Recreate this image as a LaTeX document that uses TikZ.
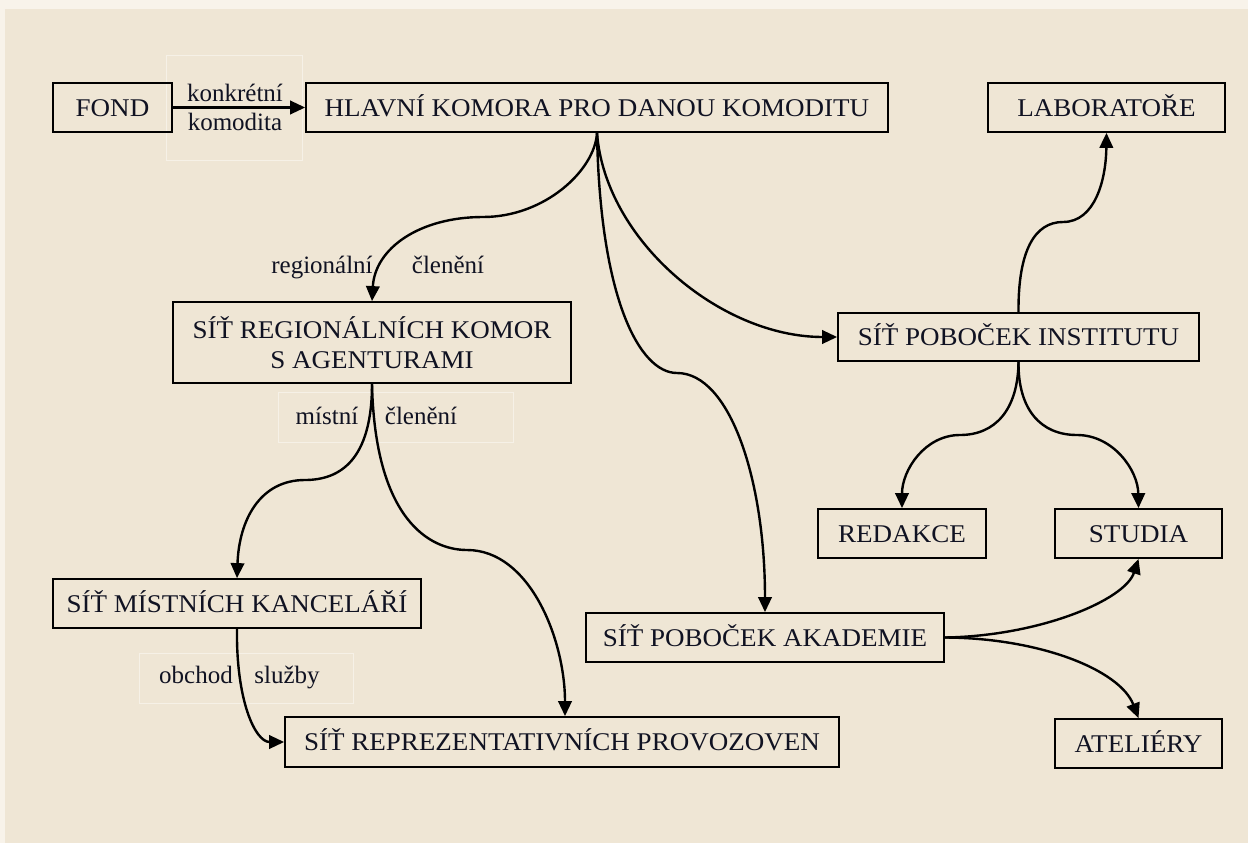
\documentclass[tikz,border=0pt]{standalone}
\usepackage{fontspec}
\setmainfont{Liberation Serif}
\newfontfamily\boxfont[FakeStretch=1.06]{Liberation Serif}
\usetikzlibrary{arrows.meta}
\definecolor{bg}{HTML}{EFE6D5}
\definecolor{bgl}{HTML}{F8F3EA}
\definecolor{ink}{HTML}{101222}
\begin{document}
\begin{tikzpicture}[x=1pt,y=-1pt,
  box/.style={draw=black, line width=1.8pt, inner sep=0pt, text=ink,
    font=\boxfont\fontsize{25.5}{30}\selectfont, text height=17pt, text depth=0pt},
  lbl/.style={text=ink, font=\fontsize{25}{30}\selectfont, anchor=base, inner sep=0pt},
  conn/.style={line width=2.4pt, -{Triangle[length=15pt,width=13.5pt]}},
  faint/.style={draw=white, line width=0.8pt, opacity=0.45}]
\useasboundingbox (0,0) rectangle (1248,843);
\fill[bgl] (0,0) rectangle (1248,843);
\fill[bg] (5,9) rectangle (1248,843);
% faint label frames
\draw[faint] (166,55) rectangle (302,160);
\draw[faint] (278,392) rectangle (513,442);
\draw[faint] (139,653) rectangle (353,703);
% boxes
\node[box, minimum width=119pt, minimum height=49pt] (fond) at (112.5,107.5) {FOND};
\node[box, minimum width=582pt, minimum height=49pt] (hlavni) at (597,107.5) {HLAVNÍ KOMORA PRO DANOU KOMODITU};
\node[box, minimum width=237pt, minimum height=49pt] (lab) at (1106.5,107.5) {LABORATOŘE};
\node[box, minimum width=398pt, minimum height=81pt, text height=, text depth=, align=center] (reg) at (372,342.5) {SÍŤ REGIONÁLNÍCH KOMOR\\S AGENTURAMI};
\node[box, minimum width=361pt, minimum height=48pt] (inst) at (1018.5,337) {SÍŤ POBOČEK INSTITUTU};
\node[box, minimum width=168pt, minimum height=49pt] (red) at (902,533.5) {REDAKCE};
\node[box, minimum width=167pt, minimum height=49pt] (stud) at (1138.5,533.5) {STUDIA};
\node[box, minimum width=368pt, minimum height=49pt] (mist) at (237,603.5) {SÍŤ MÍSTNÍCH KANCELÁŘÍ};
\node[box, minimum width=358pt, minimum height=49pt] (akad) at (765,637.5) {SÍŤ POBOČEK AKADEMIE};
\node[box, minimum width=554pt, minimum height=50pt] (repr) at (562,742) {SÍŤ REPREZENTATIVNÍCH PROVOZOVEN};
\node[box, minimum width=167pt, minimum height=49pt] (atel) at (1138.5,743.5) {ATELIÉRY};
% labels
\node[lbl] (l1) at (235,101) {konkrétní};
\node[lbl] (l2) at (235,130) {komodita};
\node[lbl] (l3) at (322,273) {regionální};
\node[lbl] (l4) at (448,273) {členění};
\node[lbl] (l5) at (327,424) {místní};
\node[lbl] (l6) at (421,424) {členění};
\node[lbl] (l7) at (196,683) {obchod};
\node[lbl] (l8) at (287,683) {služby};
% intermediate points
\coordinate (m2) at (483,217);
\coordinate (m3) at (677,373);
\coordinate (m5) at (305,480);
\coordinate (m6) at (467,550);
\coordinate (m8) at (1063,222);
\coordinate (m9) at (960,435);
\coordinate (m10) at (1077,435);
% connectors
\draw[conn] (fond.east) -- (hlavni.west);
\draw[conn] (hlavni.south) .. controls (595,170) and (545,217) .. (m2) .. controls (420,217) and (375,248) .. (reg.north);
\draw[conn] (hlavni.south) .. controls (600,300) and (640,373) .. (m3) .. controls (730,373) and (765,480) .. (akad.north);
\draw[conn] (hlavni.south) .. controls (605,240) and (720,337) .. (inst.west);
\draw[conn] (reg.south) .. controls (372,460) and (340,480) .. (m5) .. controls (260,480) and (239,520) .. (mist.north);
\draw[conn] (reg.south) .. controls (375,520) and (430,550) .. (m6) .. controls (530,550) and (565,640) .. ([xshift=3pt]repr.north);
\draw[conn] (mist.south) .. controls (236,700) and (255,742) .. (repr.west);
\draw[conn] (inst.north) .. controls (1018,250) and (1035,222) .. (m8) .. controls (1095,222) and (1106,180) .. (lab.south);
\draw[conn] (inst.south) .. controls (1018,410) and (995,435) .. (m9) .. controls (925,435) and (902,470) .. (red.north);
\draw[conn] (inst.south) .. controls (1018,410) and (1041,435) .. (m10) .. controls (1113,435) and (1138,470) .. (stud.north);
\draw[conn] (akad.east) .. controls (1040,636) and (1125,600) .. (stud.south);
\draw[conn] (akad.east) .. controls (1040,638) and (1120,670) .. (atel.north);
\end{tikzpicture}
\end{document}
